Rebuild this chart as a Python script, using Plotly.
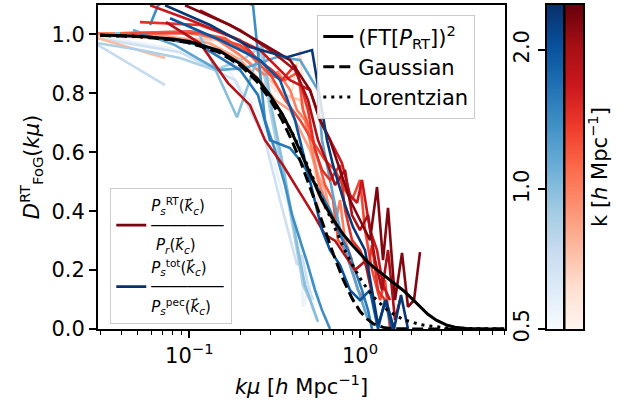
import numpy as np
import plotly.graph_objects as go

# ---------------- colour maps (ColorBrewer Blues / Reds, as matplotlib) ----------------
BLUES = [(247, 251, 255), (222, 235, 247), (198, 219, 239), (158, 202, 225), (107, 174, 214),
         (66, 146, 198), (33, 113, 181), (8, 81, 156), (8, 48, 107)]
REDS = [(255, 245, 240), (254, 224, 210), (252, 187, 161), (252, 146, 114), (251, 106, 74),
        (239, 59, 44), (203, 24, 29), (165, 15, 21), (103, 0, 13)]

# ---------------- axis / tick data ----------------
k_min, k_max = 0.5, 2.5
cbar_ticks = [0.5, 1.0, 2.0]
cbar_ticktext = ["0.5", "1.0", "2.0"]
x_ticks = [0.1, 1.0]
x_ticktext = ["10<sup>−1</sup>", "10<sup>0</sup>"]
x_minor = [0.03, 0.04, 0.05, 0.06, 0.07, 0.08, 0.09, 0.2, 0.3, 0.4, 0.5, 0.6, 0.7, 0.8, 0.9,
           2, 3, 4, 5, 6, 7]
y_ticks = [0.0, 0.2, 0.4, 0.6, 0.8, 1.0]
y_ticktext = ["0.0", "0.2", "0.4", "0.6", "0.8", "1.0"]

# ---------------- model curves ----------------
kmu_model = [0.03, 0.05, 0.08, 0.1, 0.15, 0.2, 0.25, 0.3, 0.35, 0.4, 0.45, 0.5, 0.55, 0.6, 0.7,
             0.8, 0.9, 1.0, 1.1, 1.2, 1.4, 1.6, 1.8, 2.0, 2.25, 2.5, 2.8, 3.2, 3.6, 4.2, 5.0, 7.0]
D_ft = [0.998, 0.994, 0.985, 0.976, 0.945, 0.90, 0.85, 0.79, 0.73, 0.665, 0.60, 0.54, 0.485,
        0.435, 0.37, 0.32, 0.285, 0.255, 0.23, 0.21, 0.18, 0.155, 0.13, 0.105, 0.075, 0.05,
        0.03, 0.014, 0.006, 0.002, 0.0005, 0.0]
D_gauss = [0.997, 0.993, 0.982, 0.972, 0.939, 0.894, 0.839, 0.776, 0.709, 0.638, 0.566, 0.495,
           0.428, 0.364, 0.252, 0.166, 0.103, 0.060, 0.034, 0.017, 0.004, 0.0008, 0.0001, 0.0,
           0.0, 0.0, 0.0, 0.0, 0.0, 0.0, 0.0, 0.0]
D_lor = [0.997, 0.993, 0.982, 0.972, 0.939, 0.896, 0.845, 0.788, 0.728, 0.667, 0.606, 0.548,
         0.492, 0.441, 0.351, 0.277, 0.219, 0.173, 0.137, 0.109, 0.071, 0.047, 0.032, 0.023,
         0.015, 0.0105, 0.0069, 0.0042, 0.0027, 0.0015, 0.0008, 0.0002]

# ---------------- measured ratios: P_s^RT / P_r (reds) ----------------
red_k = [0.6, 0.75, 0.7, 0.85, 1.0, 1.2, 1.3, 1.45, 1.7, 1.9, 2.0, 2.3]
red_kmu = [
    [0.0292, 0.1155, 0.2268, 0.3177, 0.3892, 0.4452, 0.4763, 0.5234, 0.5675, 0.5990],
    [0.0292, 0.0721],
    [0.0292, 0.1513, 0.2595, 0.3637, 0.4452, 0.5095, 0.5450, 0.5831, 0.6238],
    [0.0292, 0.0673, 0.1322, 0.1982, 0.2595, 0.3177, 0.3892, 0.4452, 0.5095, 0.5675, 0.6238, 0.6856],
    [0.0292, 0.1009, 0.1414, 0.1982, 0.2426, 0.2776, 0.3309, 0.3892, 0.4276, 0.4763, 0.5234,
     0.5675, 0.6238, 0.6674, 0.7139, 0.7634, 0.8168, 0.8978],
    [0.0393, 0.1009, 0.1619, 0.2268, 0.2970, 0.3637, 0.4334, 0.4636, 0.5095, 0.5675, 0.6238,
     0.6949, 0.7430, 0.8168, 0.8978, 0.9734, 1.055],
    [0.0450, 0.1155, 0.1982, 0.2776, 0.3637, 0.4452, 0.5234, 0.6238, 0.7139, 0.8168, 0.8978,
     1.0, 1.070, 1.176, 1.310, 1.401, 1.499],
    [0.0514, 0.1155, 0.1982, 0.2526, 0.3051, 0.3492, 0.4163, 0.4960, 0.5450, 0.5990, 0.6674,
     0.7634, 0.8168, 0.8978, 1.0, 1.114, 1.176, 1.275, 1.401],
    [0.0589, 0.1009, 0.1803, 0.2595, 0.3892, 0.5095, 0.5831, 0.6674, 0.7843, 0.8739, 0.9603,
     1.027, 1.144, 1.258, 1.364, 1.499],
    [0.0730, 0.1155, 0.1686, 0.2268, 0.2776, 0.3540, 0.4452, 0.5450, 0.6238, 0.7139, 0.8168,
     0.9348, 1.070, 1.176],
    [0.1155, 0.1982, 0.2970, 0.4163, 0.4960, 0.5675, 0.6495, 0.7139, 0.8168, 0.8978, 1.0,
     1.114, 1.225, 1.346, 1.459, 1.603, 1.715],
    [0.0944, 0.1731, 0.2776, 0.3892, 0.5095, 0.5831, 0.6674, 0.7634, 0.8739, 1.0, 1.144, 1.258,
     1.364, 1.459, 1.603, 1.762, 1.910, 2.072, 2.246],
]
red_D = [
    [0.994, 0.981, 0.906, 0.811, 0.777, 0.947, 0.743, 0.607, 0.438, 0.336],
    [0.987, 0.920],
    [0.998, 0.981, 0.879, 0.794, 0.777, 0.675, 0.573, 0.472, 0.404],
    [1.001, 0.998, 0.970, 0.913, 0.845, 0.777, 0.743, 0.675, 0.607, 0.523, 0.472, 0.370],
    [1.004, 1.004, 0.987, 0.930, 0.886, 0.862, 0.872, 0.811, 0.743, 0.709, 0.607, 0.506, 0.438,
     0.387, 0.353, 0.438, 0.302, 0.234],
    [1.004, 1.011, 0.987, 0.930, 0.862, 0.845, 0.872, 0.743, 0.675, 0.573, 0.489, 0.438, 0.302,
     0.268, 0.200, 0.132, 0.098],
    [1.004, 1.004, 0.964, 0.896, 0.777, 0.709, 0.641, 0.573, 0.540, 0.472, 0.438, 0.506, 0.336,
     0.200, 0.098, 0.166, 0.0],
    [1.042, 1.032, 0.981, 0.913, 0.879, 0.845, 0.896, 0.743, 0.607, 0.540, 0.506, 0.556, 0.404,
     0.302, 0.268, 0.200, 0.285, 0.132, 0.098],
    [1.099, 1.049, 0.991, 0.947, 0.845, 0.811, 0.709, 0.641, 0.563, 0.455, 0.428, 0.506, 0.336,
     0.268, 0.149, 0.098],
    [1.042, 0.970, 0.835, 0.760, 0.641, 0.556, 0.462, 0.380, 0.320, 0.300, 0.250, 0.200, 0.230,
     0.120],
    [1.082, 1.015, 0.947, 0.879, 0.777, 0.641, 0.556, 0.489, 0.540, 0.387, 0.336, 0.387, 0.234,
     0.132, 0.268, 0.031, 0.098],
    [1.099, 1.032, 0.964, 0.913, 0.811, 0.709, 0.641, 0.540, 0.438, 0.370, 0.302, 0.482, 0.234,
     0.411, 0.098, 0.258, 0.075, 0.098, 0.261],
]

# ---------------- measured ratios: P_s^tot / P_s^pec (blues) ----------------
blue_k = [0.55, 0.7, 0.75, 0.85, 1.0, 1.2, 1.4, 1.6, 2.0, 2.4]
blue_kmu = [
    [0.0292, 0.0771, 0.1731, 0.2666, 0.3540, 0.4052, 0.4452, 0.4636, 0.5305, 0.5831],
    [0.0292, 0.0882, 0.1852, 0.2776, 0.3399, 0.3892, 0.4276, 0.4574, 0.4960, 0.5305],
    [0.0292, 0.0721],
    [0.0292, 0.0514, 0.0882, 0.1414, 0.2120, 0.2595, 0.2970, 0.3399, 0.3788, 0.4219, 0.4636,
     0.5095, 0.5599],
    [0.0367, 0.1124, 0.1903, 0.2666, 0.3051, 0.3492, 0.3892, 0.4334, 0.4763, 0.5095, 0.5675],
    [0.0468, 0.0825, 0.1473, 0.2120, 0.3265, 0.4452, 0.5675, 0.5990, 0.6674, 0.7430, 0.8168,
     0.9348, 1.027, 1.114],
    [0.0589, 0.0656, 0.1155, 0.2361, 0.2776, 0.3177, 0.3637, 0.3998, 0.4452, 0.4893, 0.5450,
     0.5990, 0.6674],
    [0.0514, 0.1155, 0.1982, 0.2526, 0.2970, 0.3892, 0.4452, 0.5599, 0.6674, 0.7634, 0.8506,
     0.9348, 1.027, 1.114, 1.176],
    [0.0771, 0.1513, 0.2595, 0.3399, 0.4163, 0.4763, 0.5450, 0.5990, 0.6674, 0.7634, 0.8739,
     1.0, 1.144, 1.275, 1.401, 1.540],
    [0.0721, 0.1322, 0.2268, 0.3737, 0.5234, 0.5831, 0.6409, 0.6949, 0.8168, 0.9100, 1.070,
     1.176, 1.275, 1.420, 1.582, 1.739, 1.910],
]
blue_D = [
    [0.994, 0.953, 0.872, 0.716, 0.455, 0.394, 0.319, 0.075, 0.176, 0.098],
    [0.987, 0.940, 0.845, 0.641, 0.438, 0.302, 0.217, 0.251, 0.149, 0.098],
    [0.964, 0.828],
    [0.970, 0.947, 0.920, 0.879, 0.920, 0.957, 0.743, 0.573, 0.438, 0.285, 0.149, 0.098, 0.031],
    [1.004, 1.011, 0.719, 0.964, 0.743, 0.573, 0.421, 0.268, 0.149, 0.098, 0.024],
    [1.015, 0.964, 0.879, 0.886, 0.923, 0.913, 0.811, 0.641, 0.506, 0.370, 0.268, 0.166, 0.098,
     0.031],
    [1.032, 1.099, 1.184, 1.099, 0.709, 0.607, 0.489, 0.387, 0.302, 0.227, 0.132, 0.064, 0.0],
    [0.998, 0.964, 0.879, 0.794, 0.641, 0.614, 0.573, 0.482, 0.404, 0.319, 0.268, 0.200, 0.132,
     0.064, 0.0],
    [1.055, 0.981, 0.913, 0.845, 0.709, 0.573, 0.438, 0.336, 0.268, 0.217, 0.132, 0.098, 0.132,
     0.0, 0.098, 0.0],
    [1.099, 1.032, 0.957, 0.923, 0.947, 0.777, 0.641, 0.556, 0.421, 0.346, 0.268, 0.132, 0.014,
     0.098, 0.0, 0.115, 0.0],
]


# ---------------- helpers ----------------
def norm(k):
    return float(np.clip(np.log(k / k_min) / np.log(k_max / k_min), 0, 1))


def cmap(colors, t):
    pos = t * (len(colors) - 1)
    i = min(int(np.floor(pos)), len(colors) - 2)
    f = pos - i
    c = [colors[i][j] * (1 - f) + colors[i + 1][j] * f for j in range(3)]
    return "rgb(%d,%d,%d)" % tuple(int(round(v)) for v in c)


def scale(colors):
    n = len(colors) - 1
    return [[i / n, "rgb(%d,%d,%d)" % c] for i, c in enumerate(colors)]


FONT = "DejaVu Sans"
fig = go.Figure()

# measured curves, drawn in order of k (reds and blues interleaved)
entries = [(k, "r", i) for i, k in enumerate(red_k)] + [(k, "b", i) for i, k in enumerate(blue_k)]
entries.sort(key=lambda e: e[0])
for k, fam, i in entries:
    if fam == "r":
        xs, ys, col = red_kmu[i], red_D[i], cmap(REDS, norm(k))
    else:
        xs, ys, col = blue_kmu[i], blue_D[i], cmap(BLUES, norm(k))
    fig.add_trace(go.Scatter(x=xs, y=ys, mode="lines", line=dict(color=col, width=2.6),
                             showlegend=False, hoverinfo="skip"))

# model curves
fig.add_trace(go.Scatter(x=kmu_model, y=D_ft, mode="lines", line=dict(color="black", width=3),
                         name="(FT[<i>P</i><sub>RT</sub>])<sup>2</sup>", legend="legend"))
fig.add_trace(go.Scatter(x=kmu_model, y=D_gauss, mode="lines",
                         line=dict(color="black", width=3, dash="11px,5px"),
                         name="Gaussian", legend="legend"))
fig.add_trace(go.Scatter(x=kmu_model, y=D_lor, mode="lines",
                         line=dict(color="black", width=3, dash="3px,5px"),
                         name="Lorentzian", legend="legend"))

# legend entries for the two families
bar = "─" * 8
fig.add_trace(go.Scatter(
    x=[None], y=[None], mode="lines", line=dict(color="rgb(120,6,18)", width=2.6),
    name="<i>P</i><sub><i>s</i></sub><sup>RT</sup>(<i>k⃗</i><sub><i>c</i></sub>)<br>" + bar +
         "<br> <i>P</i><sub><i>r</i></sub>(<i>k⃗</i><sub><i>c</i></sub>)",
    legend="legend2"))
fig.add_trace(go.Scatter(
    x=[None], y=[None], mode="lines", line=dict(color="rgb(8,48,107)", width=2.6),
    name="<i>P</i><sub><i>s</i></sub><sup>tot</sup>(<i>k⃗</i><sub><i>c</i></sub>)<br>" + bar +
         "<br><i>P</i><sub><i>s</i></sub><sup>pec</sup>(<i>k⃗</i><sub><i>c</i></sub>)",
    legend="legend2"))

# colour bars drawn as heatmaps on their own log axes
kgrid = np.logspace(np.log10(k_min), np.log10(k_max), 240)
zgrid = [[norm(k)] for k in kgrid]
fig.add_trace(go.Heatmap(x=[0], y=kgrid, z=zgrid, colorscale=scale(BLUES), zmin=0, zmax=1,
                         showscale=False, hoverinfo="skip", xaxis="x2", yaxis="y2"))
fig.add_trace(go.Heatmap(x=[0], y=kgrid, z=zgrid, colorscale=scale(REDS), zmin=0, zmax=1,
                         showscale=False, hoverinfo="skip", xaxis="x3", yaxis="y3"))

axis_common = dict(showline=True, linecolor="black", linewidth=2, mirror=True, showgrid=False,
                   zeroline=False, tickcolor="black", tickwidth=1.6, automargin=False,
                   tickfont=dict(family=FONT, size=21, color="black"))
bar_axis = dict(showline=True, linecolor="black", linewidth=2, mirror=True, showgrid=False,
                zeroline=False, automargin=False)

fig.update_layout(
    width=635, height=408, autosize=False,
    margin=dict(l=98, r=52, t=5, b=79, pad=0),
    paper_bgcolor="white", plot_bgcolor="white",
    font=dict(family=FONT, size=21, color="black"),
    xaxis=dict(type="log", range=[np.log10(0.02918), np.log10(7.07)], domain=[0, 0.8392],
               anchor="y", tickvals=x_ticks, ticktext=x_ticktext, ticks="outside", ticklen=7,
               minor=dict(tickvals=x_minor, ticks="outside", ticklen=4, tickwidth=1.2,
                          tickcolor="black"),
               title=dict(text="<i>kμ</i> [<i>h</i> Mpc<sup>−1</sup>]", standoff=12,
                          font=dict(family=FONT, size=21)),
               **axis_common),
    yaxis=dict(range=[0, 1.1], domain=[0, 1], anchor="x", tickvals=y_ticks, ticktext=y_ticktext,
               ticks="outside", ticklen=7,
               title=dict(text="<i>D</i><sup>RT</sup><sub>FoG</sub>(<i>kμ</i>)", standoff=6,
                          font=dict(family=FONT, size=21)),
               **axis_common),
    xaxis2=dict(domain=[0.9252, 0.9602], anchor="y2", range=[-0.5, 0.5], showticklabels=False,
                ticks="", **bar_axis),
    yaxis2=dict(domain=[0, 1], anchor="x2", type="log", range=[np.log10(k_min), np.log10(k_max)],
                side="left", tickvals=cbar_ticks, ticktext=cbar_ticktext, tickangle=-90,
                ticks="outside", ticklen=7, **axis_common),
    xaxis3=dict(domain=[0.9635, 1.0], anchor="y3", range=[-0.5, 0.5], showticklabels=False,
                ticks="", **bar_axis),
    yaxis3=dict(domain=[0, 1], anchor="x3", type="log", range=[np.log10(k_min), np.log10(k_max)],
                side="right", showticklabels=False, ticks="",
                title=dict(text="k [<i>h</i> Mpc<sup>−1</sup>]", standoff=8,
                           font=dict(family=FONT, size=21)),
                **bar_axis),
    legend=dict(x=0.4515, y=0.969, xanchor="left", yanchor="top",
                bgcolor="rgba(255,255,255,0.85)", bordercolor="#cccccc", borderwidth=1.3,
                font=dict(family=FONT, size=21), itemwidth=30, tracegroupgap=0),
    legend2=dict(x=0.0247, y=0.435, xanchor="left", yanchor="top",
                 bgcolor="rgba(255,255,255,0.85)", bordercolor="#cccccc", borderwidth=1.3,
                 font=dict(family=FONT, size=15), itemwidth=30, tracegroupgap=0),
)

fig.write_html("out.html", config={"displayModeBar": False},
               post_script="document.body.style.margin='0';")
